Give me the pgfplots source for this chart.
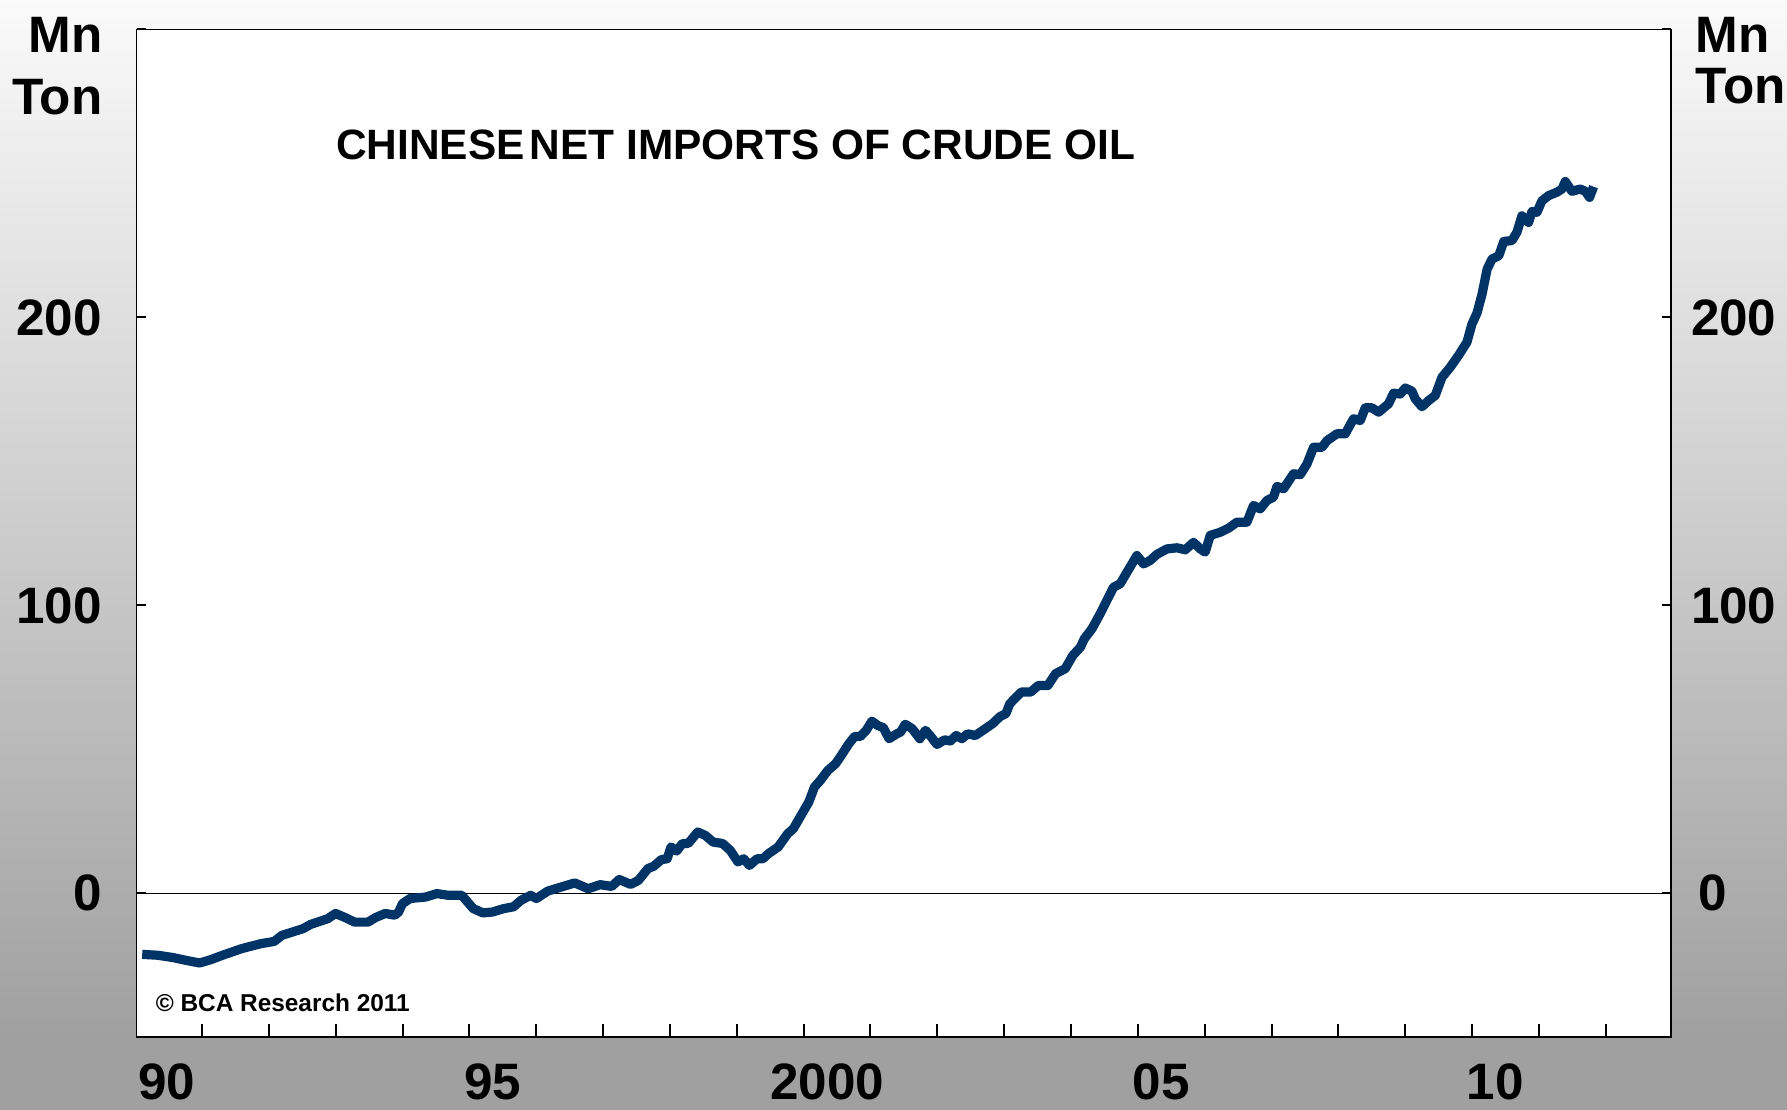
\documentclass[border=0pt]{standalone}
\usepackage{pgfplots}
\pgfplotsset{compat=1.18}
\usepackage{fontspec}
\setmainfont{Liberation Sans}
\definecolor{navy}{RGB}{0,51,102}
\definecolor{bgtop}{RGB}{250,250,250}
\definecolor{bggray}{RGB}{160,160,160}
\pgfplotstableread{
x y
1989.754 -21.2
1989.983 -21.5
1990.212 -22.3
1990.412 -23.3
1990.613 -24.2
1990.785 -23.0
1990.957 -21.5
1991.243 -19.2
1991.528 -17.5
1991.729 -16.7
1991.844 -14.6
1992.158 -12.3
1992.274 -10.8
1992.531 -8.8
1992.646 -7.0
1992.788 -8.4
1992.932 -10.0
1993.132 -10.0
1993.246 -8.4
1993.390 -7.0
1993.533 -7.6
1993.590 -6.5
1993.647 -3.6
1993.762 -1.8
1993.991 -1.3
1994.163 -0.1
1994.335 -0.7
1994.536 -0.7
1994.621 -3.0
1994.707 -5.3
1994.850 -6.8
1994.994 -6.5
1995.164 -5.3
1995.308 -4.7
1995.423 -2.4
1995.565 -0.7
1995.652 -1.8
1995.824 0.8
1995.996 2.0
1996.225 3.6
1996.426 1.6
1996.605 3.0
1996.778 2.4
1996.891 4.8
1997.063 3.1
1997.178 4.5
1997.321 8.6
1997.407 9.4
1997.521 11.7
1997.608 12.0
1997.665 16.1
1997.750 14.7
1997.837 17.3
1997.922 17.3
1998.066 21.3
1998.180 20.1
1998.295 17.8
1998.438 17.3
1998.552 14.9
1998.667 10.9
1998.753 12.0
1998.840 9.7
1998.953 12.0
1999.039 12.0
1999.125 13.8
1999.269 16.1
1999.411 20.7
1999.498 22.5
1999.612 27.1
1999.727 31.7
1999.812 36.9
1999.899 39.2
2000.013 42.7
2000.128 45.0
2000.213 47.9
2000.328 52.0
2000.414 54.5
2000.499 54.5
2000.586 56.6
2000.671 59.8
2000.758 58.3
2000.843 57.5
2000.928 53.7
2001.044 55.4
2001.100 56.0
2001.169 58.7
2001.273 57.2
2001.388 53.7
2001.473 56.6
2001.558 54.3
2001.645 51.7
2001.759 53.3
2001.846 52.9
2001.931 54.8
2002.018 53.7
2002.103 55.4
2002.217 54.8
2002.332 56.6
2002.476 58.9
2002.589 61.4
2002.676 62.4
2002.733 65.8
2002.905 69.9
2003.047 69.9
2003.162 72.2
2003.304 72.2
2003.420 76.3
2003.563 78.0
2003.677 82.6
2003.792 85.5
2003.849 88.4
2003.964 91.9
2004.087 97.1
2004.286 106.3
2004.386 107.5
2004.487 111.5
2004.636 117.3
2004.735 114.4
2004.835 115.6
2004.935 117.7
2005.085 119.6
2005.235 120.0
2005.359 119.3
2005.483 121.9
2005.584 119.6
2005.658 118.5
2005.733 124.3
2005.883 125.4
2006.007 126.8
2006.133 128.9
2006.282 128.9
2006.381 134.7
2006.481 133.5
2006.581 136.4
2006.680 137.6
2006.731 141.3
2006.830 140.5
2006.980 145.7
2007.080 145.4
2007.180 149.1
2007.279 154.9
2007.405 154.9
2007.480 157.2
2007.629 159.6
2007.753 159.6
2007.877 164.8
2007.978 164.2
2008.052 168.6
2008.153 168.6
2008.252 167.1
2008.401 170.0
2008.476 173.7
2008.576 173.4
2008.651 175.5
2008.751 174.4
2008.801 171.7
2008.901 169.0
2009.000 171.1
2009.100 172.9
2009.200 179.2
2009.324 182.7
2009.448 186.8
2009.574 191.4
2009.649 197.7
2009.724 201.5
2009.799 208.0
2009.876 216.8
2009.950 220.3
2010.050 221.4
2010.125 226.4
2010.248 226.7
2010.322 229.6
2010.397 235.3
2010.496 233.0
2010.547 236.8
2010.621 236.5
2010.696 240.5
2010.795 242.3
2010.921 243.5
2010.996 244.6
2011.045 247.2
2011.145 243.8
2011.270 244.6
2011.345 243.8
2011.409 241.7
2011.469 245.4
}\oildata
\newcommand{\bigfont}{\bfseries\fontsize{12.8}{12.8}\selectfont}
\begin{document}
\begin{tikzpicture}
% background
\fill[bggray] (0pt,0pt) rectangle (446.75pt,18.4pt);
\shade[top color=bgtop, bottom color=bggray] (0pt,18.175pt) rectangle (446.75pt,277.5pt);
\begin{axis}[
  at={(34.15pt,18.175pt)}, anchor=south west,
  scale only axis, width=383.65pt, height=251.95pt,
  xmin=1989.67, xmax=2012.63, ymin=-50, ymax=300,
  axis background/.style={fill=white},
  axis line style={black, line width=0.4pt},
  xtick={1990.65,1991.65,1992.65,1993.65,1994.65,1995.65,1996.65,1997.65,1998.65,1999.65,2000.65,2001.65,2002.65,2003.65,2004.65,2005.65,2006.65,2007.65,2008.65,2009.65,2010.65,2011.65},
  xticklabels={},
  extra x ticks={1990.12,1995,2000,2005,2010},
  extra x tick labels={90,95,2000,05,10},
  extra x tick style={major tick length=0pt},
  xtick pos=bottom, tick align=inside,
  major tick length=3.25pt,
  ytick={0,100,200,300}, yticklabels={0,100,200,{}}, ytick pos=left,
  ytick style={/pgfplots/major tick length=2.25pt},
  tick style={black, line width=0.5pt},
  /pgf/number format/assume math mode=true,
  ticklabel style={font=\bigfont},
  xticklabel style={anchor=center, inner sep=0pt, yshift=-11.2pt},
  yticklabel style={anchor=east, inner sep=0pt, xshift=-8.5pt},
]
\draw[black, line width=0.4pt] (axis cs:1989.67,0) -- (axis cs:2012.63,0);
\addplot[navy, line width=2.3pt, line join=round] table[x=x, y=y] {\oildata};
\end{axis}
\begin{axis}[
  at={(34.15pt,18.175pt)}, anchor=south west,
  scale only axis, width=383.65pt, height=251.95pt,
  xmin=1989.67, xmax=2012.63, ymin=-50, ymax=300,
  axis line style={draw=none},
  xtick=\empty,
  ytick={0,100,200,300}, yticklabels={\hspace{1.75pt}0,100,200,{}},
  ytick pos=right, yticklabel pos=right, tick align=inside,
  major tick length=2.25pt,
  tick style={black, line width=0.5pt},
  /pgf/number format/assume math mode=true,
  ticklabel style={font=\bigfont},
  yticklabel style={anchor=west, inner sep=0pt, xshift=4.75pt},
]
\end{axis}
% titles and units
\node[anchor=base, inner sep=0pt, font=\bfseries\fontsize{10.6}{10.6}\selectfont] at (183.9pt,237.6pt) {CHINESE\hspace{0.12em}NET IMPORTS OF CRUDE OIL};
\node[anchor=base east, inner sep=0pt, font=\bigfont] at (25.8pt,264.25pt) {Mn};
\node[anchor=base east, inner sep=0pt, font=\bigfont] at (25.8pt,248.75pt) {Ton};
\node[anchor=base west, inner sep=0pt, font=\bigfont] at (423.75pt,264.25pt) {Mn};
\node[anchor=base west, inner sep=0pt, font=\bigfont] at (423.75pt,251.7pt) {Ton};
\node[anchor=base west, inner sep=0pt, font=\bfseries\fontsize{6.1}{6.1}\selectfont] at (38.75pt,24.6pt) {\textcopyright\ BCA Research 2011};
\pgfresetboundingbox
\useasboundingbox (0pt,0pt) rectangle (446.75pt,277.5pt);
\end{tikzpicture}
\end{document}
